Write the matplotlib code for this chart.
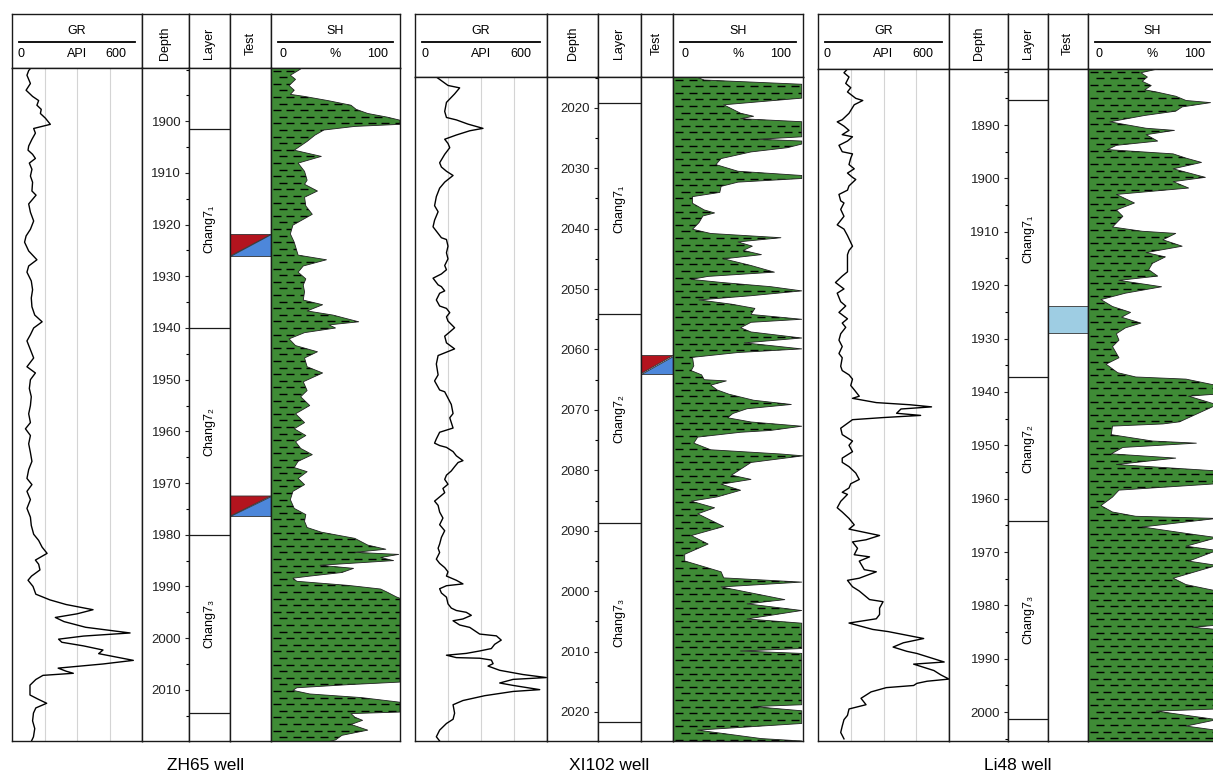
import numpy as np
import matplotlib
matplotlib.use('Agg')
import matplotlib.pyplot as plt
from matplotlib.collections import LineCollection
from matplotlib.patches import Polygon, Rectangle
from matplotlib.lines import Line2D
from matplotlib.ticker import MultipleLocator

plt.rcParams['font.family'] = ['Liberation Sans', 'DejaVu Sans']

W, H = 1213, 774

# ---------------- data ----------------
# ZH65 well
zh65_gr_depth = [1889.8, 1890.2, 1891.1, 1892.7, 1894.0, 1895.2, 1896.0, 1896.9, 1897.7, 1898.5,
                 1899.4, 1900.6, 1901.4, 1902.3, 1903.5, 1904.8, 1905.6, 1906.4, 1907.2, 1908.1,
                 1909.3, 1910.6, 1911.8, 1913.5, 1914.3, 1916.0, 1917.6, 1919.3, 1920.9, 1922.2,
                 1923.4, 1925.1, 1926.8, 1928.0, 1929.2, 1930.9, 1932.6, 1934.2, 1935.9, 1937.5,
                 1938.8, 1940.0, 1941.3, 1942.5, 1944.2, 1945.8, 1947.5, 1948.7, 1950.0, 1951.7,
                 1953.3, 1955.0, 1956.6, 1958.3, 1959.5, 1960.8, 1962.4, 1964.1, 1965.8, 1967.4,
                 1969.1, 1970.3, 1971.6, 1973.2, 1974.9, 1976.6, 1978.2, 1979.9, 1981.1, 1982.4,
                 1983.6, 1984.9, 1985.7, 1986.8, 1988.0, 1988.8, 1990.0, 1991.5, 1992.6, 1993.5,
                 1994.5, 1995.3, 1996.0, 1996.8, 1997.9, 1999.0, 1999.6, 2000.2, 2000.8, 2001.5,
                 2002.3, 2003.0, 2004.3, 2005.0, 2005.8, 2006.4, 2006.8, 2007.2, 2008.0, 2009.1,
                 2011.0, 2011.8, 2012.6, 2013.5, 2014.5, 2016.0, 2017.5, 2019.1, 2019.9]
zh65_gr = [85, 77, 69, 85, 65, 95, 123, 115, 135, 131,
           154, 177, 100, 108, 92, 77, 74, 95, 108, 80,
           92, 85, 95, 92, 111, 77, 85, 100, 85, 65,
           58, 77, 115, 77, 69, 89, 95, 89, 92, 105,
           139, 100, 85, 69, 85, 100, 69, 108, 85, 80,
           89, 85, 77, 85, 62, 85, 77, 85, 92, 77,
           69, 92, 69, 85, 69, 85, 89, 100, 123, 139,
           162, 108, 123, 129, 90, 74, 97, 110, 175, 250,
           374, 300, 200, 240, 340, 545, 330, 215, 230, 330,
           420, 400, 560, 420, 213, 250, 283, 143, 110, 83,
           83, 120, 160, 110, 99, 95, 105, 99, 90]
zh65_sh_depth = [1889.4, 1890.2, 1891.1, 1891.9, 1893.1, 1894.0, 1894.8, 1895.2, 1896.0, 1896.9,
                 1897.7, 1898.5, 1899.2, 1899.8, 1900.6, 1901.0, 1901.7, 1902.7, 1903.9, 1905.6,
                 1906.8, 1908.1, 1909.7, 1911.4, 1912.2, 1913.5, 1914.7, 1916.4, 1918.0, 1920.1,
                 1921.8, 1923.4, 1925.9, 1926.8, 1928.0, 1929.2, 1930.5, 1931.7, 1933.0, 1934.6,
                 1935.5, 1936.7, 1937.5, 1938.8, 1939.4, 1940.0, 1940.9, 1942.1, 1943.4, 1944.6,
                 1945.8, 1947.5, 1948.7, 1950.4, 1952.1, 1953.3, 1955.0, 1956.6, 1958.3, 1959.5,
                 1960.8, 1962.0, 1963.3, 1964.5, 1965.8, 1967.0, 1967.8, 1969.1, 1970.3, 1971.6,
                 1973.2, 1974.9, 1976.1, 1977.4, 1978.6, 1979.5, 1980.7, 1982.0, 1982.8, 1983.4,
                 1983.8, 1984.4, 1985.0, 1985.9, 1986.5, 1987.3, 1988.0, 1988.4, 1989.0, 1989.8,
                 1990.5, 1991.1, 1992.0, 1992.3, 2008.5, 2009.0, 2009.6, 2010.1, 2010.8, 2011.5,
                 2012.4, 2014.3, 2014.6, 2015.3, 2015.9, 2016.7, 2017.8, 2018.8, 2019.7, 2020.0]
zh65_sh = [26, 21, 15, 19, 14, 18, 15, 26, 44, 62,
           66, 75, 90, 100, 100, 65, 41, 34, 28, 18,
           39, 21, 26, 28, 26, 36, 26, 27, 32, 17,
           15, 18, 21, 43, 25, 21, 27, 25, 26, 25,
           40, 28, 48, 68, 45, 50, 26, 14, 19, 36,
           26, 28, 40, 25, 28, 23, 30, 19, 26, 18,
           27, 19, 23, 32, 21, 18, 28, 21, 26, 17,
           15, 18, 27, 26, 28, 39, 65, 75, 89, 65,
           99, 85, 95, 38, 64, 55, 30, 17, 20, 60,
           85, 90, 97, 100, 100, 60, 20, 17, 30, 70,
           100, 100, 62, 65, 71, 62, 75, 55, 50, 45]
zh65_ticks = [1900, 1910, 1920, 1930, 1940, 1950, 1960, 1970, 1980, 1990, 2000, 2010]
zh65_tick_labels = ['1900', '1910', '1920', '1930', '1940', '1950', '1960', '1970',
                    '1980', '1990', '2000', '2010']
zh65_layer_bounds = [1901.5, 1940.0, 1980.0, 2014.5]
zh65_tests = [(1921.9, 1926.1), (1972.5, 1976.4)]

# XI102 well
xi102_gr_depth = [2014.9, 2016.3, 2016.7, 2017.7, 2019.1, 2020.6, 2021.6, 2022.0, 2022.7, 2023.1,
                  2023.4, 2023.8, 2024.5, 2025.2, 2025.9, 2026.6, 2027.7, 2029.1, 2029.8, 2030.5,
                  2031.2, 2032.3, 2033.3, 2034.7, 2036.2, 2037.2, 2038.6, 2039.7, 2040.8, 2041.5,
                  2041.8, 2042.9, 2044.0, 2045.0, 2046.1, 2046.8, 2047.5, 2048.2, 2049.3, 2049.6,
                  2050.3, 2050.7, 2051.8, 2052.8, 2053.2, 2053.9, 2054.6, 2055.3, 2056.4, 2057.1,
                  2057.8, 2058.9, 2059.9, 2061.0, 2062.4, 2064.2, 2065.2, 2066.7, 2067.0, 2069.1,
                  2070.6, 2071.3, 2073.0, 2073.7, 2074.8, 2075.5, 2075.9, 2076.2, 2076.9, 2077.6,
                  2078.4, 2078.7, 2079.4, 2080.1, 2080.8, 2081.5, 2082.3, 2083.0, 2083.7, 2084.4,
                  2085.1, 2085.8, 2086.9, 2087.9, 2089.0, 2090.0, 2091.1, 2092.2, 2092.9, 2093.6,
                  2094.7, 2095.4, 2096.1, 2096.8, 2097.5, 2098.2, 2098.8, 2099.1, 2099.6, 2100.3,
                  2101.0, 2102.1, 2102.8, 2103.2, 2103.5, 2104.0, 2104.6, 2104.9, 2105.6, 2106.0,
                  2107.1, 2107.4, 2108.1, 2108.8, 2109.5, 2109.9, 2110.3, 2110.6, 2111.0, 2111.1,
                  2111.4, 2112.0, 2112.4, 2113.1, 2113.8, 2114.3, 2114.6, 2115.2, 2115.6, 2116.3,
                  2116.6, 2117.3, 2118.1, 2118.8, 2120.2, 2121.2, 2121.9, 2123.0, 2124.1, 2124.8]
xi102_gr = [97, 150, 203, 180, 143, 135, 143, 188, 241, 279,
            309, 249, 188, 135, 150, 158, 135, 112, 120, 143,
            173, 135, 112, 97, 89, 105, 89, 82, 105, 120,
            143, 150, 143, 150, 135, 143, 120, 82, 105, 120,
            135, 112, 97, 112, 143, 158, 143, 150, 180, 158,
            135, 143, 180, 105, 97, 105, 89, 112, 135, 165,
            173, 158, 173, 112, 97, 89, 112, 143, 173, 188,
            218, 196, 180, 165, 143, 135, 150, 127, 135, 112,
            89, 105, 112, 127, 112, 135, 120, 112, 105, 112,
            97, 112, 135, 150, 143, 188, 218, 143, 112, 120,
            143, 150, 165, 188, 233, 256, 218, 173, 203, 249,
            294, 370, 392, 362, 347, 294, 233, 143, 188, 294,
            347, 355, 332, 385, 491, 597, 446, 385, 446, 567,
            446, 317, 218, 173, 180, 173, 143, 112, 97, 112]
xi102_sh_depth = [2014.9, 2015.4, 2016.1, 2018.4, 2019.5, 2020.9, 2021.4, 2021.8, 2022.3, 2024.8,
                  2025.2, 2025.5, 2026.0, 2026.6, 2027.3, 2028.4, 2029.4, 2030.5, 2031.2, 2031.7,
                  2032.3, 2033.0, 2034.0, 2034.7, 2035.8, 2036.9, 2037.4, 2037.9, 2039.0, 2040.1,
                  2040.8, 2041.5, 2042.2, 2042.9, 2043.6, 2044.3, 2045.0, 2046.1, 2047.2, 2047.9,
                  2048.4, 2048.9, 2049.6, 2050.3, 2051.1, 2051.8, 2052.5, 2053.2, 2054.2, 2055.0,
                  2055.5, 2056.4, 2057.1, 2058.1, 2058.9, 2059.9, 2060.5, 2061.3, 2062.7, 2063.5,
                  2064.2, 2065.0, 2065.2, 2065.9, 2066.7, 2067.4, 2068.4, 2069.1, 2069.8, 2070.6,
                  2071.3, 2072.0, 2072.7, 2073.4, 2073.7, 2074.5, 2075.5, 2076.6, 2077.3, 2077.6,
                  2078.7, 2080.8, 2081.5, 2082.3, 2083.3, 2084.4, 2085.1, 2086.2, 2087.2, 2089.3,
                  2090.8, 2092.2, 2093.9, 2095.0, 2096.8, 2097.8, 2098.5, 2099.3, 2101.4, 2102.1,
                  2103.2, 2104.6, 2105.3, 2109.5, 2109.9, 2110.3, 2118.8, 2119.1, 2119.8, 2121.9,
                  2123.0, 2124.4, 2124.8]
xi102_sh = [18, 24, 99, 99, 39, 52, 62, 52, 99, 99,
            66, 99, 99, 88, 60, 37, 33, 50, 99, 99,
            50, 37, 36, 15, 15, 24, 32, 23, 20, 15,
            29, 83, 50, 61, 54, 68, 39, 60, 78, 27,
            14, 37, 75, 99, 60, 20, 45, 63, 60, 99,
            60, 52, 60, 99, 55, 99, 50, 15, 16, 14,
            22, 24, 41, 29, 34, 43, 62, 91, 57, 46,
            42, 60, 99, 75, 52, 19, 16, 29, 83, 100,
            60, 45, 60, 37, 52, 34, 14, 32, 19, 39,
            14, 27, 9, 9, 37, 39, 99, 37, 86, 57,
            99, 57, 99, 99, 52, 99, 99, 62, 99, 99,
            19, 68, 99]
xi102_ticks = [2020, 2030, 2040, 2050, 2060, 2070, 2080, 2090, 2100, 2110, 2120]
xi102_tick_labels = ['2020', '2030', '2040', '2050', '2060', '2070', '2080', '2090',
                     '2000', '2010', '2020']
xi102_layer_bounds = [2019.2, 2054.2, 2088.8, 2121.6]
xi102_tests = [(2061.0, 2064.0)]

# Li48 well
li48_gr_depth = [1879.5, 1880.2, 1881.0, 1882.2, 1883.0, 1883.8, 1885.0, 1885.4, 1886.2, 1887.8,
                 1889.0, 1889.4, 1890.2, 1891.0, 1891.8, 1892.2, 1893.0, 1893.8, 1895.0, 1895.4,
                 1896.2, 1897.4, 1898.2, 1899.0, 1899.8, 1900.2, 1901.4, 1902.2, 1903.0, 1904.2,
                 1904.6, 1905.8, 1907.1, 1908.7, 1909.5, 1910.7, 1912.7, 1913.5, 1914.3, 1917.5,
                 1918.3, 1919.5, 1920.7, 1921.5, 1923.1, 1923.9, 1925.1, 1926.3, 1927.1, 1927.9,
                 1929.1, 1930.3, 1931.5, 1932.8, 1933.6, 1935.2, 1936.0, 1936.8, 1937.6, 1938.8,
                 1939.6, 1940.8, 1941.2, 1942.0, 1942.4, 1942.8, 1943.2, 1944.0, 1944.4, 1944.8,
                 1945.2, 1946.8, 1948.0, 1949.2, 1950.0, 1951.2, 1952.4, 1953.2, 1954.0, 1955.2,
                 1956.4, 1957.2, 1958.0, 1958.8, 1959.2, 1960.5, 1961.7, 1962.5, 1963.7, 1964.9,
                 1965.7, 1966.1, 1966.9, 1967.7, 1968.1, 1969.3, 1970.5, 1970.9, 1971.7, 1973.3,
                 1973.7, 1974.9, 1975.3, 1976.5, 1977.3, 1978.9, 1979.3, 1980.5, 1981.7, 1982.5,
                 1983.3, 1984.5, 1984.9, 1985.7, 1986.2, 1987.0, 1987.8, 1988.6, 1989.0, 1990.2,
                 1990.6, 1991.0, 1992.2, 1993.0, 1993.8, 1994.2, 1994.6, 1995.0, 1995.4, 1996.2,
                 1997.4, 1998.6, 1999.4, 2000.6, 2001.4, 2002.6, 2003.8, 2005.0]
li48_gr = [135, 119, 142, 127, 150, 135, 173, 205, 166, 142,
           111, 88, 119, 142, 111, 158, 135, 96, 111, 158,
           150, 142, 166, 135, 158, 173, 142, 135, 96, 104,
           119, 104, 119, 88, 119, 135, 158, 142, 135, 135,
           111, 80, 119, 88, 104, 127, 96, 135, 111, 127,
           104, 96, 111, 96, 111, 104, 111, 142, 158, 150,
           166, 189, 158, 267, 420, 520, 380, 360, 470, 300,
           158, 104, 111, 158, 142, 158, 111, 111, 142, 173,
           189, 150, 142, 111, 135, 104, 88, 111, 142, 166,
           142, 189, 282, 220, 158, 181, 166, 236, 189, 212,
           267, 189, 135, 158, 189, 236, 298, 282, 282, 267,
           142, 251, 321, 422, 484, 391, 344, 407, 453, 546,
           578, 438, 531, 562, 600, 500, 453, 438, 313, 243,
           197, 220, 142, 135, 119, 111, 104, 119]
li48_sh_depth = [1879.5, 1880.2, 1881.0, 1881.8, 1882.6, 1883.4, 1883.8, 1884.6, 1885.4, 1885.8,
                 1886.6, 1887.4, 1888.2, 1889.4, 1890.6, 1891.0, 1891.8, 1893.0, 1893.8, 1894.6,
                 1895.4, 1896.2, 1897.0, 1898.2, 1899.8, 1900.6, 1901.8, 1903.0, 1904.6, 1905.9,
                 1907.1, 1909.1, 1909.9, 1910.3, 1911.5, 1912.7, 1913.9, 1914.7, 1915.9, 1917.1,
                 1918.3, 1919.1, 1920.3, 1921.5, 1922.7, 1924.0, 1925.1, 1926.0, 1927.1, 1928.0,
                 1929.1, 1930.3, 1931.5, 1933.6, 1934.8, 1936.4, 1937.2, 1937.6, 1938.8, 1940.4,
                 1940.8, 1942.4, 1945.6, 1946.0, 1946.4, 1948.0, 1949.2, 1949.6, 1950.4, 1951.6,
                 1952.4, 1953.6, 1954.8, 1957.2, 1958.4, 1959.7, 1961.3, 1962.5, 1963.3, 1963.7,
                 1965.3, 1966.5, 1967.3, 1968.9, 1969.7, 1971.7, 1972.5, 1974.9, 1976.1, 1977.3,
                 1983.7, 1984.1, 1984.5, 1999.4, 1999.8, 2001.4, 2002.6, 2003.4, 2005.4]
li48_sh = [54, 41, 46, 42, 49, 44, 53, 68, 76, 95,
           73, 68, 44, 17, 45, 67, 45, 54, 22, 15,
           66, 76, 88, 66, 91, 66, 78, 22, 36, 22,
           27, 19, 42, 68, 58, 73, 45, 60, 50, 47,
           54, 24, 57, 29, 10, 19, 33, 26, 41, 29,
           22, 24, 19, 24, 14, 23, 37, 76, 100, 100,
           78, 100, 71, 58, 19, 18, 50, 84, 27, 18,
           68, 22, 100, 100, 24, 19, 10, 19, 37, 100,
           42, 76, 100, 76, 100, 78, 100, 66, 76, 100,
           100, 81, 100, 100, 53, 100, 76, 100, 100]
li48_ticks = [1880, 1890, 1900, 1910, 1920, 1930, 1940, 1950, 1960, 1970, 1980, 1990, 2000]
li48_tick_labels = ['', '1890', '1900', '1910', '1920', '1930', '1940', '1950', '1960',
                    '1970', '1980', '1990', '2000']
li48_layer_bounds = [1885.3, 1937.2, 1964.2, 2001.2]
li48_tests = [(1923.9, 1929.0)]

layer_names = ['Chang7\u2081', 'Chang7\u2082', 'Chang7\u2083']

wells = [
    dict(title='ZH65 well', ylim=(2019.9, 1889.7), gr_d=zh65_gr_depth, gr=zh65_gr,
         sh_d=zh65_sh_depth, sh=zh65_sh, ticks=zh65_ticks, labels=zh65_tick_labels,
         layers=zh65_layer_bounds, tests=zh65_tests, test_kind='oil'),
    dict(title='XI102 well', ylim=(2124.8, 2014.9), gr_d=xi102_gr_depth, gr=xi102_gr,
         sh_d=xi102_sh_depth, sh=xi102_sh, ticks=xi102_ticks, labels=xi102_tick_labels,
         layers=xi102_layer_bounds, tests=xi102_tests, test_kind='oil'),
    dict(title='Li48 well', ylim=(2005.4, 1879.5), gr_d=li48_gr_depth, gr=li48_gr,
         sh_d=li48_sh_depth, sh=li48_sh, ticks=li48_ticks, labels=li48_tick_labels,
         layers=li48_layer_bounds, tests=li48_tests, test_kind='water'),
]

# ---------------- layout (pixels) ----------------
layout = [
    dict(cols=[12, 142, 189, 230, 271, 400], top=14, hdr=68, bot=741),
    dict(cols=[415, 547, 598, 641, 673, 803], top=14, hdr=77, bot=741),
    dict(cols=[818, 949, 1008, 1048, 1088, 1217], top=14, hdr=69, bot=741),
]

GREEN = '#3f8b36'
EDGE = '#1a1a1a'
FS = 9

fig = plt.figure(figsize=(W / 100, H / 100), dpi=100)


def px_axes(x0, x1, y0, y1):
    ax = fig.add_axes([x0 / W, 1 - y1 / H, (x1 - x0) / W, (y1 - y0) / H])
    ax.set_xticks([])
    ax.set_yticks([])
    for s in ax.spines.values():
        s.set_linewidth(1.0)
        s.set_color(EDGE)
    return ax


def ftext(x, y, s, **kw):
    fig.text(x / W, 1 - y / H, s, fontsize=FS, va='center', **kw)


def fline(x0, x1, y):
    fig.add_artist(Line2D([x0 / W, x1 / W], [1 - y / H, 1 - y / H],
                          transform=fig.transFigure, color='black', lw=1.3))


def shale_fill(ax, depth, sh):
    poly = ax.fill_betweenx(depth, 0, sh, facecolor=GREEN, edgecolor='none', lw=0, zorder=1)
    y0, y1 = ax.get_ylim()
    m_per_px = abs(y0 - y1) / (ax.get_position().height * H)
    step = 6.6 * m_per_px
    segs = []
    rows = np.arange(min(y0, y1) + step * 0.4, max(y0, y1), step)
    for i, yy in enumerate(rows):
        off = 1.5 + (i % 2) * 5
        for xs in np.arange(off, 100, 10.5):
            segs.append([(xs, yy), (xs + 6.2, yy)])
    lc = LineCollection(segs, colors='black', linewidths=1.0, zorder=2)
    ax.add_collection(lc)
    lc.set_clip_path(poly.get_paths()[0], ax.transData)
    ax.plot(sh, depth, color='#222222', lw=0.6, zorder=3)


for well, lay in zip(wells, layout):
    c = lay['cols']
    top, hdr, bot = lay['top'], lay['hdr'], lay['bot']

    # header boxes
    for i in range(5):
        px_axes(c[i], c[i + 1], top, hdr)

    # GR header
    ftext((c[0] + c[1]) / 2, 31, 'GR', ha='center')
    fline(c[0] + 7, c[1] - 7, 42)
    ftext(c[0] + 6, 54, '0', ha='left')
    ftext((c[0] + c[1]) / 2, 54, 'API', ha='center')
    ftext(c[1] - 16, 54, '600', ha='right')
    # rotated headers
    for i, name in [(1, 'Depth'), (2, 'Layer'), (3, 'Test')]:
        ftext((c[i] + c[i + 1]) / 2, 43, name, ha='center', rotation=90)
    # SH header
    ftext((c[4] + c[5]) / 2, 31, 'SH', ha='center')
    fline(c[4] + 7, c[5] - 7, 42)
    ftext(c[4] + 8, 54, '0', ha='left')
    ftext((c[4] + c[5]) / 2, 54, '%', ha='center')
    ftext(c[5] - 12, 54, '100', ha='right')

    # data columns
    ax_gr = px_axes(c[0], c[1], hdr, bot)
    ax_dep = px_axes(c[1], c[2], hdr, bot)
    ax_lay = px_axes(c[2], c[3], hdr, bot)
    ax_test = px_axes(c[3], c[4], hdr, bot)
    ax_sh = px_axes(c[4], c[5], hdr, bot)

    for ax in (ax_gr, ax_dep, ax_lay, ax_test, ax_sh):
        ax.set_ylim(*well['ylim'])

    # GR curve
    ax_gr.set_xlim(0, 600)
    for g in (150, 300, 450):
        ax_gr.axvline(g, color='#d4d4d4', lw=0.8, zorder=0)
    ax_gr.plot(well['gr'], well['gr_d'], color='black', lw=1.0)

    # depth ticks on the layer column's left edge
    ax_lay.set_yticks(well['ticks'], well['labels'])
    ax_lay.yaxis.set_minor_locator(MultipleLocator(5))
    ax_lay.tick_params(axis='y', which='major', direction='out', length=3.2, width=0.8,
                       pad=2.5, labelsize=9.5, colors='#222222')
    ax_lay.tick_params(axis='y', which='minor', direction='out', length=2.2, width=0.8)
    ax_lay.set_xlim(0, 1)
    b = well['layers']
    for d in b:
        ax_lay.axhline(d, color=EDGE, lw=0.9)
    for k, name in enumerate(layer_names):
        ax_lay.text(0.5, (b[k] + b[k + 1]) / 2, name, rotation=90, ha='center',
                    va='center', fontsize=FS, transform=ax_lay.get_yaxis_transform())

    # tests
    ax_test.set_xlim(0, 1)
    for t0, t1 in well['tests']:
        if well['test_kind'] == 'oil':
            ax_test.add_patch(Polygon([(0, t0), (1, t0), (0, t1)], closed=True,
                                      facecolor='#b3141e', edgecolor='#333333', lw=0.6))
            ax_test.add_patch(Polygon([(1, t0), (1, t1), (0, t1)], closed=True,
                                      facecolor='#4d87da', edgecolor='#333333', lw=0.6))
        else:
            ax_test.add_patch(Rectangle((0, t0), 1, t1 - t0, facecolor='#9ecde3',
                                        edgecolor='#333333', lw=0.6))

    # SH fill with shale pattern
    ax_sh.set_xlim(0, 100)
    shale_fill(ax_sh, well['sh_d'], well['sh'])

    # well name
    fig.text(((c[0] + c[5]) / 2) / W, 1 - 766 / H, well['title'], ha='center',
             va='center', fontsize=12.5)

fig.savefig('out.png', dpi=100)
